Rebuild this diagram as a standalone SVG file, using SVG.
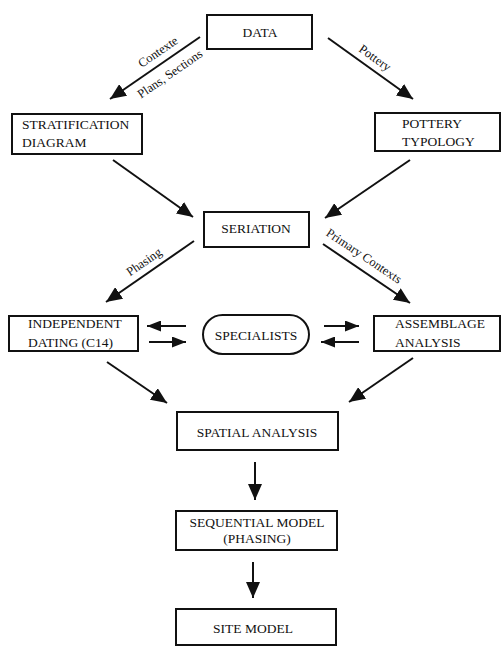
<svg xmlns="http://www.w3.org/2000/svg" width="502" height="646" viewBox="0 0 502 646">
<style>
.box{fill:#fff;stroke:#111;stroke-width:2}
.t{font-family:"Liberation Serif","Times New Roman",serif;font-size:13.5px;fill:#111}
.c{text-anchor:middle}
.lbl{font-family:"Liberation Serif","Times New Roman",serif;font-size:12.5px;fill:#111;text-anchor:middle}
.ln{stroke:#111;stroke-width:2;fill:none;marker-end:url(#ah)}
</style>
<defs>
<marker id="ah" markerUnits="userSpaceOnUse" markerWidth="17" markerHeight="14" refX="16" refY="7" orient="auto">
<path d="M0,0 L16,7 L0,14 z" fill="#111"/>
</marker>
<marker id="ahs" markerUnits="userSpaceOnUse" markerWidth="15" markerHeight="11" refX="14" refY="5.5" orient="auto">
<path d="M0,0 L14,5.5 L0,11 z" fill="#111"/>
</marker>
</defs>
<rect width="502" height="646" fill="#fff"/>
<g id="connectors">
<line class="ln" x1="200" y1="37" x2="110" y2="99"/>
<line class="ln" x1="328" y1="38" x2="413" y2="99"/>
<line class="ln" x1="113" y1="160" x2="193" y2="217"/>
<line class="ln" x1="410" y1="160" x2="325" y2="218"/>
<line class="ln" x1="194" y1="241" x2="106" y2="302"/>
<line class="ln" x1="323" y1="244" x2="410" y2="303"/>
<line class="ln" style="marker-end:url(#ahs)" x1="186" y1="326" x2="147" y2="326"/>
<line class="ln" style="marker-end:url(#ahs)" x1="149" y1="342" x2="186" y2="342"/>
<line class="ln" style="marker-end:url(#ahs)" x1="324" y1="326" x2="359" y2="326"/>
<line class="ln" style="marker-end:url(#ahs)" x1="359" y1="342" x2="321" y2="342"/>
<line class="ln" x1="107" y1="362" x2="167" y2="403"/>
<line class="ln" x1="413" y1="358" x2="349" y2="402"/>
<line class="ln" x1="255" y1="462" x2="255" y2="500"/>
<line class="ln" x1="253" y1="562" x2="253" y2="598"/>
<text class="lbl" transform="translate(158,52) rotate(-34.6)" y="4">Contexte</text>
<text class="lbl" transform="translate(170,74) rotate(-34.6)" y="4">Plans, Sections</text>
<text class="lbl" transform="translate(375,58) rotate(35.5)" y="4">Pottery</text>
<text class="lbl" transform="translate(144,262) rotate(-34.7)" y="4">Phasing</text>
<text class="lbl" transform="translate(364,256) rotate(34)" y="4">Primary Contexts</text>
</g>
<g id="data"><rect class="box" x="207" y="15" width="105" height="34"/><text class="t c" x="260" y="37">DATA</text></g>
<g id="stratification"><rect class="box" x="12" y="114" width="130" height="40"/><text class="t" x="22" y="129">STRATIFICATION</text><text class="t" x="22" y="147">DIAGRAM</text></g>
<g id="pottery"><rect class="box" x="375" y="113" width="125" height="38"/><text class="t" x="402" y="128">POTTERY</text><text class="t" x="402" y="146">TYPOLOGY</text></g>
<g id="seriation"><rect class="box" x="204" y="212" width="105" height="35"/><text class="t c" x="256" y="233">SERIATION</text></g>
<g id="independent"><rect class="box" x="9" y="316" width="129" height="35"/><text class="t" x="28" y="328">INDEPENDENT</text><text class="t" x="28" y="347">DATING (C14)</text></g>
<g id="specialists"><rect class="box" x="203" y="315" width="106" height="39" rx="19.5"/><text class="t c" x="256" y="340">SPECIALISTS</text></g>
<g id="assemblage"><rect class="box" x="374" y="316" width="126" height="35"/><text class="t" x="395" y="328">ASSEMBLAGE</text><text class="t" x="395" y="347">ANALYSIS</text></g>
<g id="spatial"><rect class="box" x="177" y="412" width="161" height="38"/><text class="t c" x="257" y="437">SPATIAL ANALYSIS</text></g>
<g id="sequential"><rect class="box" x="176" y="511" width="161" height="39"/><text class="t c" x="257" y="527">SEQUENTIAL MODEL</text><text class="t c" x="257" y="543">(PHASING)</text></g>
<g id="site"><rect class="box" x="176" y="609" width="160" height="36"/><text class="t c" x="253" y="633">SITE MODEL</text></g>
</svg>
